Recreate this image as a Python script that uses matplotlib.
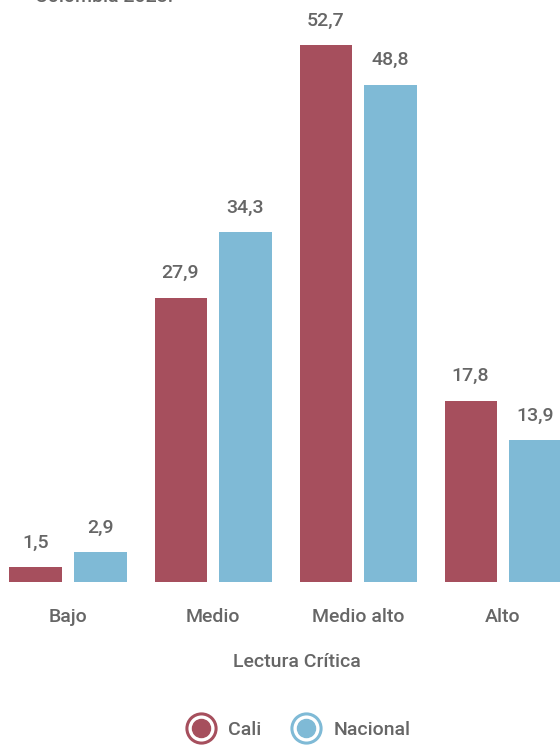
import matplotlib
matplotlib.use("Agg")
import matplotlib.pyplot as plt
import numpy as np
from matplotlib.lines import Line2D
from matplotlib.legend_handler import HandlerTuple

plt.rcParams['font.family'] = ['Roboto', 'DejaVu Sans']

# ===== DATA =====
categories = ["Bajo", "Medio", "Medio alto", "Alto"]
cali = [1.5, 27.9, 52.7, 17.8]
nacional = [2.9, 34.3, 48.8, 13.9]
series_names = ["Cali", "Nacional"]
x_title = "Lectura Crítica"

# ===== COLORS =====
c_cali = "#A64F5D"
c_nac = "#7FBAD6"
c_text = "#666666"

fig = plt.figure(figsize=(5.6, 7.45), dpi=100)
ax = fig.add_axes([0, 0.2188, 1, 0.7812])

x = np.arange(len(categories))
w = 0.359
off = 0.224
b1 = ax.bar(x - off, cali, w, color=c_cali)
b2 = ax.bar(x + off, nacional, w, color=c_nac)

for bars, vals in ((b1, cali), (b2, nacional)):
    for b, v in zip(bars, vals):
        ax.annotate(f"{v:.1f}".replace(".", ","),
                    (b.get_x() + b.get_width() / 2, b.get_height()),
                    xytext=(0, 11), textcoords="offset points",
                    ha="center", va="bottom", fontsize=14, color=c_text,
                    fontweight="medium")

ax.set_xlim(-0.469, 3.393)
ax.set_ylim(0, 57.1)
ax.set_xticks(x)
ax.set_xticklabels(categories, fontsize=14, color=c_text, fontweight="medium")
ax.tick_params(axis="x", length=0, pad=19)
ax.set_yticks([])
for s in ax.spines.values():
    s.set_visible(False)

fig.text(297 / 560, 1 - 662 / 745, x_title, ha="center", va="center",
         fontsize=14, color=c_text, fontweight="medium")

# cut-off subtitle at the top
fig.text(35 / 560, 1.004, "Colombia 2023.", ha="left", va="center",
         fontsize=14, color=c_text, fontweight="medium")

# ===== LEGEND (ring markers) =====
handles = []
for c in (c_cali, c_nac):
    ring = Line2D([], [], marker="o", linestyle="none", markersize=21,
                  markerfacecolor="white", markeredgecolor=c, markeredgewidth=2.2)
    dot = Line2D([], [], marker="o", linestyle="none", markersize=13,
                 markerfacecolor=c, markeredgecolor=c)
    handles.append((ring, dot))
leg = fig.legend(handles, series_names, handler_map={tuple: HandlerTuple(ndivide=1)},
                 loc="center", bbox_to_anchor=(299 / 560, 1 - 730 / 745), ncol=2,
                 frameon=False, fontsize=14, labelcolor=c_text,
                 handlelength=1.4, handletextpad=0.7, columnspacing=1.6)
for t in leg.get_texts():
    t.set_fontweight("medium")

fig.savefig("out.png", dpi=100)
